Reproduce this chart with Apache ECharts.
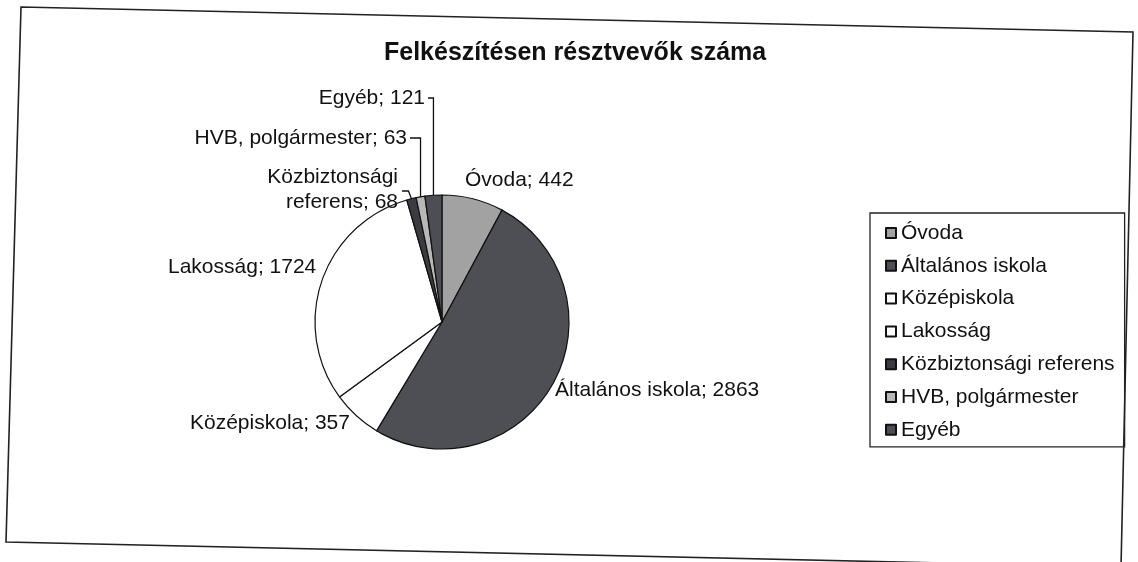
<!DOCTYPE html>
<html>
<head>
<meta charset="utf-8">
<script src="https://cdn.jsdelivr.net/npm/echarts@6/dist/echarts.min.js"></script>
<style>
  html, body { margin: 0; padding: 0; background: #fff; }
  #chart { width: 1138px; height: 562px; }
</style>
</head>
<body>
<div id="chart"></div>
<script>
// adatok
const categories = ['Óvoda', 'Általános iskola', 'Középiskola', 'Lakosság',
  'Közbiztonsági referens', 'HVB, polgármester', 'Egyéb']
const values = [442, 2863, 357, 1724, 68, 63, 121]

// szürke árnyalatok, mint a szkennelt eredetin
const sliceColors = ['#a2a2a2', '#4e4e55', '#ffffff', '#ffffff', '#3c3c40', '#b8b8b8', '#4d4d54']

// címkék helye: [x, y, igazítás] – a szöveg horgonypontja
const labelSpots = [
  [465, 180, 'left'],
  [555, 390, 'left'],
  [190, 423, 'left'],
  [168, 267, 'left'],
  [398, 190, 'right'],
  [407, 138, 'right'],
  [425, 98, 'right']
]
const withLeader = [false, false, false, false, true, true, true]

const chart = echarts.init(document.getElementById('chart'))

const font = "'Liberation Sans', Arial, sans-serif"

chart.setOption({
  animation: false,
  backgroundColor: '#fff',
  title: {
    text: 'Felkészítésen résztvevők száma',
    left: 384,
    top: 41,
    padding: 0,
    textStyle: { fontFamily: font, fontSize: 25, fontWeight: 'bold', color: '#111' }
  },
  legend: {
    orient: 'vertical',
    left: 870,
    top: 213,
    padding: [9, 10, 6, 15],
    itemGap: 10.8,
    itemWidth: 10,
    itemHeight: 10,
    icon: 'rect',
    borderColor: '#222',
    borderWidth: 1.3,
    textStyle: { fontFamily: font, fontSize: 21, lineHeight: 22, color: '#111' },
    data: categories
  },
  graphic: [{
    type: 'polygon',
    shape: { points: [[21, 7], [1133, 32], [1121, 567], [6, 542]] },
    style: { fill: 'none', stroke: '#222', lineWidth: 1.6 },
    silent: true
  }],
  series: [{
    type: 'pie',
    center: [442, 322],
    radius: 127,
    startAngle: 90,
    clockwise: true,
    avoidLabelOverlap: false,
    itemStyle: { borderColor: '#111', borderWidth: 1.2 },
    label: {
      show: true,
      position: 'outside',
      fontFamily: font,
      fontSize: 21,
      lineHeight: 25,
      color: '#111',
      formatter: (p) => {
        const name = p.name === 'Közbiztonsági referens' ? 'Közbiztonsági\nreferens' : p.name
        return name + '; ' + p.value
      }
    },
    labelLine: { lineStyle: { color: '#111', width: 1.3 } },
    labelLayout: (params) => {
      const s = labelSpots[params.dataIndex]
      const out = { x: s[0], y: s[1], align: s[2], verticalAlign: 'middle' }
      const pts = params.labelLinePoints
      if (pts && withLeader[params.dataIndex]) {
        const edge = pts[0]
        if (params.dataIndex === 4) {
          out.labelLinePoints = [edge, [edge[0] - 3, s[1] + 1], [s[0] + 4, s[1] + 1]]
        } else {
          out.labelLinePoints = [edge, [edge[0], s[1]], [s[0] + 3, s[1]]]
        }
      }
      return out
    },
    data: categories.map((name, i) => ({
      name,
      value: values[i],
      itemStyle: { color: sliceColors[i] },
      labelLine: { show: withLeader[i] }
    }))
  }]
})

window.addEventListener('resize', () => chart.resize())
</script>
</body>
</html>
